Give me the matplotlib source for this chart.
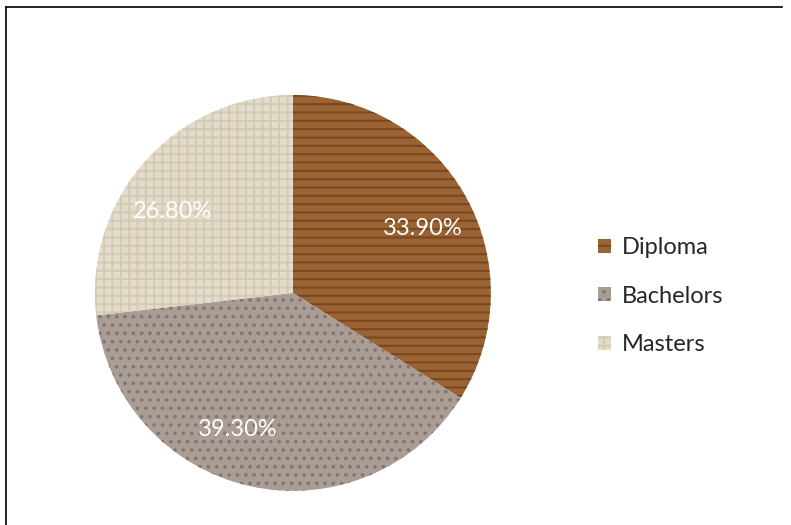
import matplotlib
matplotlib.use("Agg")
import math
import matplotlib.pyplot as plt
from matplotlib.lines import Line2D

# data
categories = ["Diploma", "Bachelors", "Masters"]
shares = [33.9, 39.3, 26.8]

# look of each slice: base colour, grain colour, hatch
face_colors = ["#9a6333", "#a99d95", "#e3dccb"]
grain_colors = ["#7a4621", "#84766e", "#d3cab5"]
hatches = ["--", "..", "++"]

plt.rcParams["font.family"] = ["Lato", "DejaVu Sans"]
plt.rcParams["hatch.linewidth"] = 1.4

fig = plt.figure(figsize=(7.91, 5.25), dpi=100)
ax = fig.add_axes([0.120, 0.065, 0.5006, 0.754])

wedges, texts, autotexts = ax.pie(
    shares,
    startangle=90,
    counterclock=False,
    colors=face_colors,
    autopct="%.2f%%",
    pctdistance=0.74,
    wedgeprops=dict(linewidth=0),
    textprops=dict(color="white", fontsize=17),
)
for w, gc, h in zip(wedges, grain_colors, hatches):
    w.set_edgecolor(gc)
    w.set_hatch(h)
    w.set_linewidth(0)

# Excel-style label spots (angle in degrees, distance from centre)
label_spots = [(26.5, 0.735), (248, 0.745), (146, 0.735)]
for t, (ang, d) in zip(autotexts, label_spots):
    a = math.radians(ang)
    t.set_position((d * math.cos(a), d * math.sin(a)))

ax.set_xlim(-1, 1)
ax.set_ylim(-1, 1)
ax.set_aspect("equal")
ax.axis("off")

fig.legend(
    wedges, categories,
    loc="center left",
    bbox_to_anchor=(0.756, 0.436),
    frameon=False,
    fontsize=17,
    handlelength=0.55,
    handleheight=0.55,
    handletextpad=0.45,
    labelspacing=1.17,
    borderpad=0,
    borderaxespad=0,
    labelcolor="#262626",
)

# frame lines (top and left only)
fig.add_artist(Line2D([6 / 791, 782 / 791], [1 - 7 / 525, 1 - 7 / 525],
                      transform=fig.transFigure, color="black", lw=1.2))
fig.add_artist(Line2D([6 / 791, 6 / 791], [1 - 7 / 525, 0],
                      transform=fig.transFigure, color="black", lw=1.2))

fig.savefig("out.png", dpi=100)
